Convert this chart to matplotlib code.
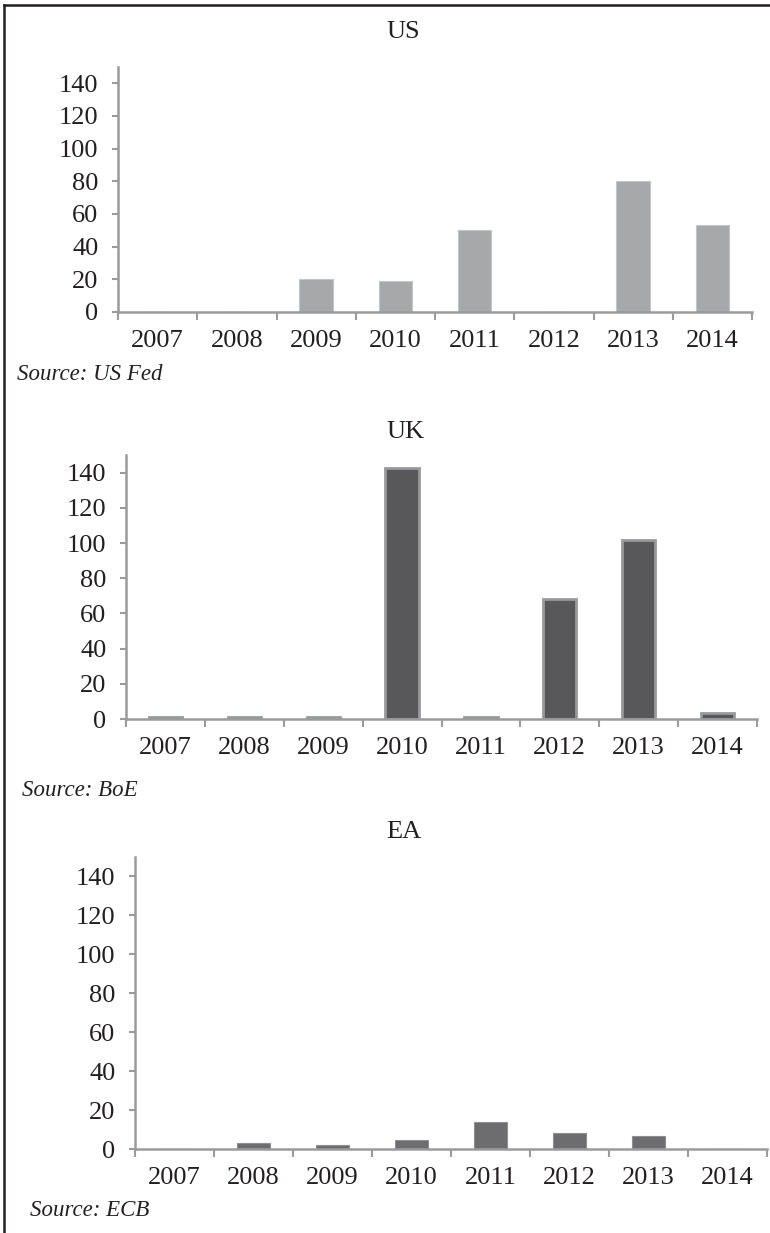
import matplotlib
matplotlib.use("Agg")
import matplotlib.pyplot as plt
from matplotlib.lines import Line2D
import numpy as np

# --- Data ---
YEARS = ["2007", "2008", "2009", "2010", "2011", "2012", "2013", "2014"]
US_VALUES = [0, 0, 20.5, 19, 50, 0, 80.5, 53]
UK_VALUES = [1, 1, 1, 142.5, 1, 68, 101.5, 3.5]
EA_VALUES = [0, 3.2, 1.9, 4.4, 14, 8, 6.8, 0]
Y_TICKS = [0, 20, 40, 60, 80, 100, 120, 140]

# --- Settings ---
W, H = 770, 1233
AXIS_COLOR = "#9a9b9d"
TEXT_COLOR = "#231f20"
plt.rcParams['font.family'] = ['Liberation Serif', 'DejaVu Serif']
plt.rcParams['font.size'] = 19

fig = plt.figure(figsize=(W / 100, H / 100), dpi=100)


def px_axes(left, right, top, bottom):
    return fig.add_axes([left / W, 1 - bottom / H, (right - left) / W, (bottom - top) / H])


def draw_panel(ax, values, fill, edge, lw):
    x = np.arange(len(values))
    ax.bar(x, values, width=0.42, color=fill, edgecolor=edge, linewidth=lw, zorder=2)
    ax.set_xlim(-0.5, len(values) - 0.5)
    ax.set_ylim(0, 150)
    ax.set_yticks(Y_TICKS)
    # category boundaries carry the tick marks, centres carry the labels
    ax.set_xticks(np.arange(-0.5, len(values), 1.0))
    ax.set_xticklabels([])
    ax.set_xticks(x, minor=True)
    ax.set_xticklabels(YEARS, minor=True)
    ax.tick_params(axis='x', which='major', direction='out', length=6, width=1.5, color=AXIS_COLOR)
    ax.tick_params(axis='x', which='minor', length=0, pad=13, labelcolor=TEXT_COLOR)
    ax.tick_params(axis='y', direction='out', length=4, width=1.5, color=AXIS_COLOR,
                   pad=10, labelcolor=TEXT_COLOR)
    for s in ['top', 'right']:
        ax.spines[s].set_visible(False)
    for s in ['left', 'bottom']:
        ax.spines[s].set_color(AXIS_COLOR)
        ax.spines[s].set_linewidth(1.8)
    ax.patch.set_alpha(0)


# --- US ---
ax1 = px_axes(118, 752, 67, 312)
draw_panel(ax1, US_VALUES, "#a7a8aa", "#c4c5c7", 0.8)
fig.text(403 / W, 1 - 32 / H, "US", ha='center', va='center', color=TEXT_COLOR)
fig.text(17 / W, 1 - 375 / H, "Source: US Fed", ha='left', va='center',
         style='italic', fontsize=16.5, color=TEXT_COLOR)

# --- UK ---
ax2 = px_axes(126, 757, 455, 719)
draw_panel(ax2, UK_VALUES, "#58585a", "#98999b", 2.0)
fig.text(406 / W, 1 - 432 / H, "UK", ha='center', va='center', color=TEXT_COLOR)
fig.text(22 / W, 1 - 791 / H, "Source: BoE", ha='left', va='center',
         style='italic', fontsize=16.5, color=TEXT_COLOR)

# --- EA ---
ax3 = px_axes(135, 767, 857, 1149)
draw_panel(ax3, EA_VALUES, "#6d6d6f", "#8e8f91", 0.8)
fig.text(404 / W, 1 - 832 / H, "EA", ha='center', va='center', color=TEXT_COLOR)
fig.text(30 / W, 1 - 1210 / H, "Source: ECB", ha='left', va='center',
         style='italic', fontsize=16.5, color=TEXT_COLOR)

# --- Frame: top and left rule only ---
fig.add_artist(Line2D([4 / W, 1], [1 - 4.5 / H, 1 - 4.5 / H], color="#231f20", lw=1.8,
                      transform=fig.transFigure))
fig.add_artist(Line2D([4 / W, 4 / W], [0, 1 - 4.5 / H], color="#231f20", lw=1.8,
                      transform=fig.transFigure))

fig.savefig("out.png", dpi=100, facecolor="white")
